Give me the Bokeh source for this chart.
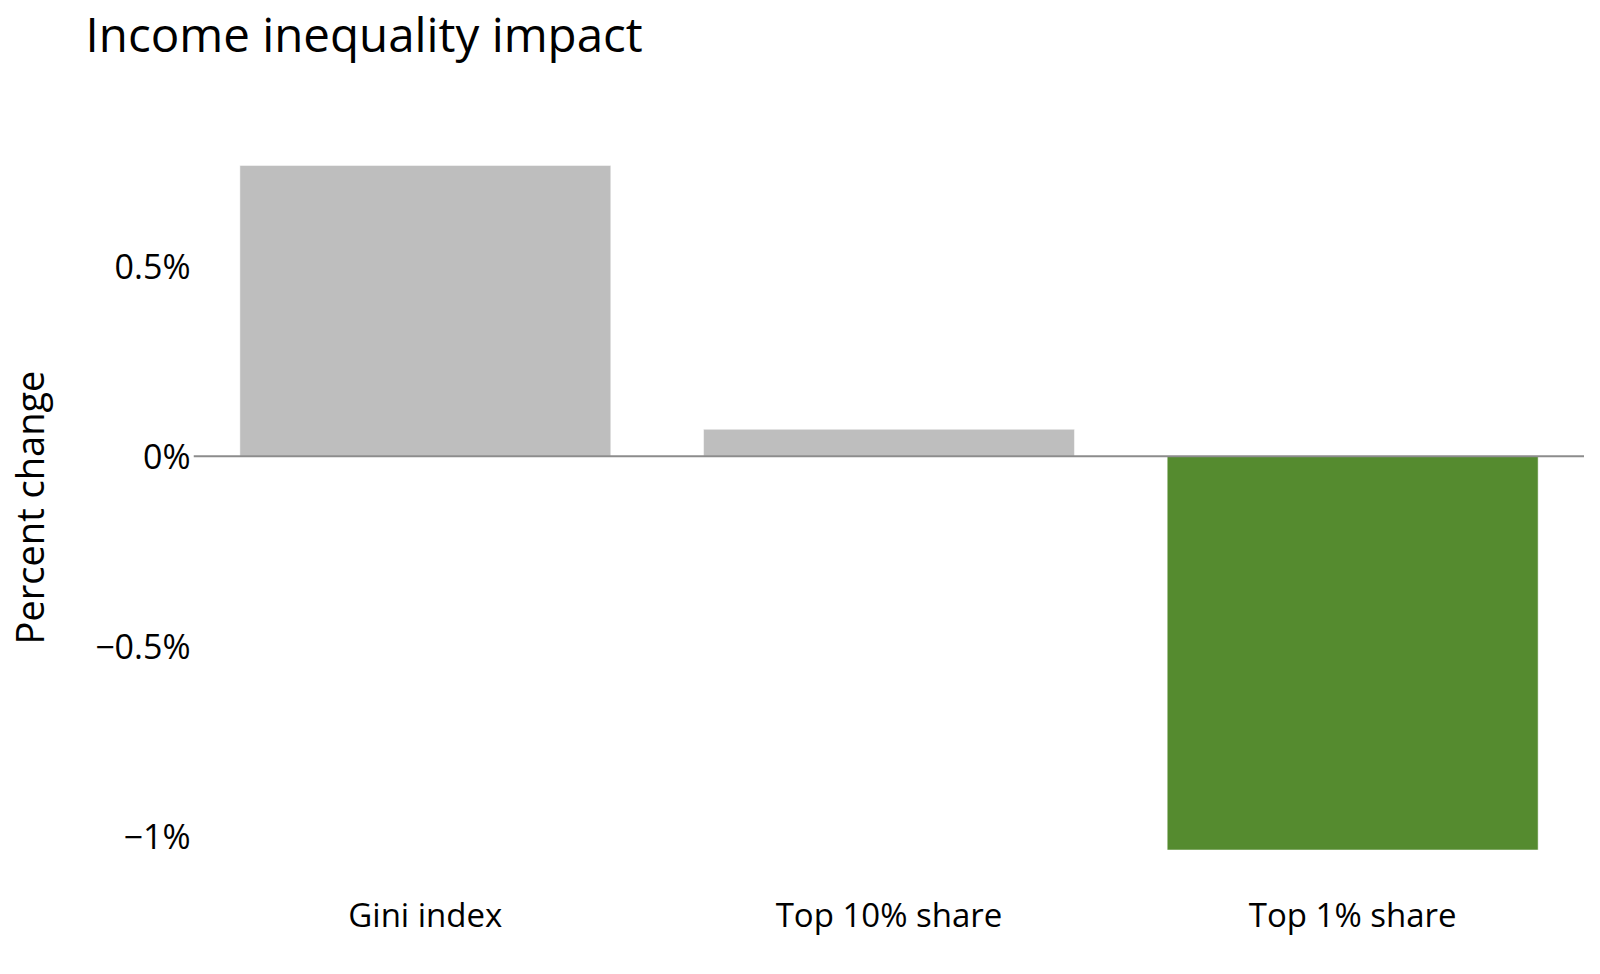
from bokeh.plotting import figure
from bokeh.models import ColumnDataSource, FactorRange, Range1d, FixedTicker, Span, Title
from bokeh.embed import file_html
from bokeh.resources import INLINE

categories = ["Gini index", "Top 10% share", "Top 1% share"]
values = [0.766, 0.071, -1.037]
colors = ["#bebebe", "#bebebe", "#558b2f"]
tick_values = [-1.0, -0.5, 0.0, 0.5]
tick_labels = ["\u22121%", "\u22120.5%", "0%", "0.5%"]
title_text = "Income inequality impact"
y_label_text = "Percent change"

FONT = "Open Sans"

source = ColumnDataSource(dict(cat=categories, val=values, color=colors))

p = figure(
    width=1584, height=958,
    x_range=FactorRange(*categories, range_padding=0),
    y_range=Range1d(-1.12, 0.85),
    output_backend="svg", toolbar_location=None, tools="",
    title=None,
    min_border_left=192, min_border_right=0,
    min_border_top=132, min_border_bottom=77,
)
# spacer between the frame and the title (closest to the frame)
p.add_layout(Title(text=" ", standoff=63, text_font_size="1px"), "above")
# the real title, stacked above the spacer
p.add_layout(Title(text=title_text, align="left", offset=-108, vertical_align="top",
                   standoff=0, text_font=FONT, text_font_size="47.5px",
                   text_font_style="normal", text_color="#000000"), "above")

p.vbar(x="cat", top="val", bottom=0, width=0.8, source=source,
       fill_color="color", line_color="white", line_width=0.5)

p.add_layout(Span(location=0, dimension="width", line_color="#8c8c8c", line_width=2))

p.outline_line_color = None
p.xgrid.visible = False
p.ygrid.visible = False
p.background_fill_color = "white"
p.border_fill_color = "white"

ya = p.yaxis[0]
ya.ticker = FixedTicker(ticks=tick_values)
ya.major_label_overrides = {v: l for v, l in zip(tick_values, tick_labels)}
ya.axis_line_color = None
ya.major_tick_line_color = None
ya.minor_tick_line_color = None
ya.major_tick_out = 0
ya.major_label_standoff = 3
ya.major_label_text_font = FONT
ya.major_label_text_font_size = "34px"
ya.major_label_text_color = "#000000"
ya.axis_label = y_label_text
ya.axis_label_text_font = FONT
ya.axis_label_text_font_size = "38px"
ya.axis_label_text_font_style = "normal"
ya.axis_label_text_color = "#000000"
ya.axis_label_standoff = 37

xa = p.xaxis[0]
xa.axis_line_color = None
xa.major_tick_line_color = None
xa.minor_tick_line_color = None
xa.major_tick_out = 0
xa.major_label_standoff = 10
xa.major_label_text_font = FONT
xa.major_label_text_font_size = "33px"
xa.major_label_text_color = "#000000"

open("out.html", "w").write(file_html(p, INLINE))
